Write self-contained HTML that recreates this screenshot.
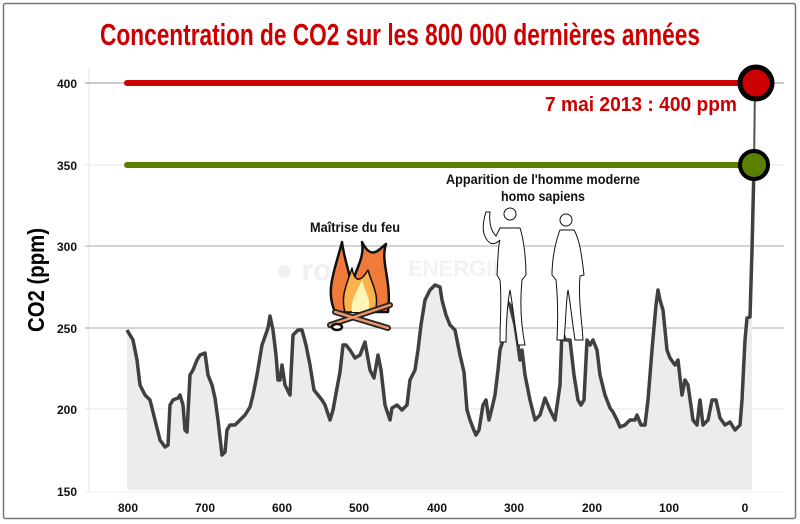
<!DOCTYPE html>
<html><head><meta charset="utf-8"><style>
html,body{margin:0;padding:0;background:#fff;width:800px;height:524px;overflow:hidden}
svg{display:block}
text{font-family:"Liberation Sans Narrow","Liberation Sans",sans-serif}
</style></head><body>
<svg width="800" height="524" viewBox="0 0 800 524" xmlns="http://www.w3.org/2000/svg">
<rect x="3.5" y="3.5" width="792" height="515" fill="#fff" stroke="#777" stroke-width="1.5" rx="2"/>
<text x="100" y="45" font-size="31" font-weight="bold" fill="#cc0000" textLength="600" lengthAdjust="spacingAndGlyphs">Concentration de CO2 sur les 800 000 dernières années</text>
<line x1="89" y1="67" x2="89" y2="493" stroke="#e6e6e6"/>
<line x1="85" y1="83" x2="784" y2="83" stroke="#999"/>
<line x1="85" y1="165" x2="784" y2="165" stroke="#e6e6e6"/>
<line x1="85" y1="246" x2="784" y2="246" stroke="#aaa"/>
<line x1="85" y1="328" x2="784" y2="328" stroke="#aaa"/>
<line x1="85" y1="409" x2="784" y2="409" stroke="#e6e6e6"/>
<line x1="85" y1="492" x2="784" y2="492" stroke="#eee"/>
<g font-size="12" font-weight="bold" fill="#111" style="font-family:'Liberation Sans',sans-serif">
<text x="77" y="88" text-anchor="end">400</text>
<text x="77" y="170" text-anchor="end">350</text>
<text x="77" y="251" text-anchor="end">300</text>
<text x="77" y="333" text-anchor="end">250</text>
<text x="77" y="414" text-anchor="end">200</text>
<text x="77" y="496" text-anchor="end">150</text>
<g text-anchor="middle">
<text x="128" y="512">800</text><text x="205" y="512">700</text><text x="282" y="512">600</text><text x="359" y="512">500</text><text x="437" y="512">400</text><text x="514" y="512">300</text><text x="592" y="512">200</text><text x="669" y="512">100</text><text x="745" y="512">0</text>
</g></g>
<text transform="translate(44,280) rotate(-90)" font-size="23" font-weight="bold" text-anchor="middle" fill="#000" textLength="104" lengthAdjust="spacingAndGlyphs">CO2 (ppm)</text>
<text x="275" y="280" font-size="30" font-weight="bold" fill="#f0f0f0">● rouch</text>
<text x="408" y="276" font-size="22" font-weight="bold" fill="#f2f2f2">ENERGIES</text>
<path id="d" d="M127,330 L130,335 133,340 137,360 140,385 145,395 150,400 155,420 160,440 165,447 168,445 170,405 173,400 178,398 180,395 183,405 185,430 187,432 190,375 193,370 197,360 200,355 205,353 208,375 212,385 215,398 218,420 222,455 225,452 227,430 230,425 235,425 240,420 245,415 250,407 253,395 257,375 262,345 268,328 270,316 273,330 276,355 278,380 280,380 282,365 285,385 290,395 293,335 298,330 302,330 306,345 310,365 314,390 318,395 322,400 325,405 330,420 333,410 337,388 340,372 343,345 346,345 350,350 355,358 360,355 365,342 370,370 374,378 378,355 381,370 385,405 390,420 392,408 397,405 402,410 407,405 410,380 415,370 418,350 421,325 425,300 430,290 435,285 440,287 442,300 446,315 450,325 455,330 460,355 464,372 467,410 470,420 473,428 476,435 479,430 483,405 486,400 489,420 492,408 495,395 498,370 500,350 503,340 506,300 510,305 515,325 518,345 520,360 522,350 525,375 530,400 535,420 540,415 545,398 550,410 555,420 560,385 562,330 565,340 570,340 574,375 578,400 581,405 584,400 587,340 590,345 593,340 597,350 600,375 605,395 610,408 613,412 617,420 620,427 625,425 630,420 635,420 637,415 641,425 645,425 648,400 652,350 656,305 658,290 660,300 663,310 667,350 670,358 675,365 678,360 682,395 685,380 688,385 693,420 697,425 700,400 703,425 708,420 712,400 716,400 720,418 725,425 730,422 735,430 740,425 742,400 745,340 747,318 750,317 752,250 754,165" fill="none"/>
<path d="M127,490 L127,330 L130,335 133,340 137,360 140,385 145,395 150,400 155,420 160,440 165,447 168,445 170,405 173,400 178,398 180,395 183,405 185,430 187,432 190,375 193,370 197,360 200,355 205,353 208,375 212,385 215,398 218,420 222,455 225,452 227,430 230,425 235,425 240,420 245,415 250,407 253,395 257,375 262,345 268,328 270,316 273,330 276,355 278,380 280,380 282,365 285,385 290,395 293,335 298,330 302,330 306,345 310,365 314,390 318,395 322,400 325,405 330,420 333,410 337,388 340,372 343,345 346,345 350,350 355,358 360,355 365,342 370,370 374,378 378,355 381,370 385,405 390,420 392,408 397,405 402,410 407,405 410,380 415,370 418,350 421,325 425,300 430,290 435,285 440,287 442,300 446,315 450,325 455,330 460,355 464,372 467,410 470,420 473,428 476,435 479,430 483,405 486,400 489,420 492,408 495,395 498,370 500,350 503,340 506,300 510,305 515,325 518,345 520,360 522,350 525,375 530,400 535,420 540,415 545,398 550,410 555,420 560,385 562,330 565,340 570,340 574,375 578,400 581,405 584,400 587,340 590,345 593,340 597,350 600,375 605,395 610,408 613,412 617,420 620,427 625,425 630,420 635,420 637,415 641,425 645,425 648,400 652,350 656,305 658,290 660,300 663,310 667,350 670,358 675,365 678,360 682,395 685,380 688,385 693,420 697,425 700,400 703,425 708,420 712,400 716,400 720,418 725,425 730,422 735,430 740,425 742,400 745,340 747,318 752,317 752,490 Z" fill="#ececec"/>
<use href="#d" stroke="#404040" stroke-width="3.5" stroke-linejoin="round"/>
<line x1="127" y1="83" x2="745" y2="83" stroke="#cc0000" stroke-width="6" stroke-linecap="round"/>
<line x1="127" y1="165" x2="745" y2="165" stroke="#5a8000" stroke-width="6" stroke-linecap="round"/>
<line x1="755" y1="83" x2="754" y2="165" stroke="#555" stroke-width="2"/>
<circle cx="756" cy="83" r="16" fill="#cc0000" stroke="#000" stroke-width="5"/>
<circle cx="754" cy="165" r="14" fill="#5a8000" stroke="#000" stroke-width="4"/>
<text x="545" y="111" font-size="20" font-weight="bold" fill="#cc0000" textLength="192" lengthAdjust="spacingAndGlyphs">7 mai 2013 : 400 ppm</text>
<text x="355" y="232" font-size="14" font-weight="bold" text-anchor="middle" fill="#111" textLength="90" lengthAdjust="spacingAndGlyphs">Maîtrise du feu</text>
<text x="543" y="184" font-size="14" font-weight="bold" text-anchor="middle" fill="#111" textLength="194" lengthAdjust="spacingAndGlyphs">Apparition de l'homme moderne</text>
<text x="543" y="201" font-size="14" font-weight="bold" text-anchor="middle" fill="#111" textLength="84" lengthAdjust="spacingAndGlyphs">homo sapiens</text>
<g stroke="#111" stroke-width="2.5" stroke-linejoin="round">
<path d="M335,312 C325,290 335,270 342,242 C345,265 352,275 350,290 C355,270 365,258 362,242 C372,262 380,248 386,244 C380,262 392,280 388,312 Z" fill="#f07a3a"/>
<path d="M345,312 C340,295 348,282 352,268 C355,285 362,280 368,270 C372,285 380,295 375,312 Z" fill="#fbb24a" stroke-width="1.5"/>
<path d="M352,312 C350,300 358,290 362,280 C366,295 372,300 368,312 Z" fill="#fff4b8" stroke="none"/>
<path d="M330,325 L390,305 M335,312 L388,328" stroke="#222" stroke-width="6" stroke-linecap="round"/>
<path d="M330,325 L390,305 M335,312 L388,328" stroke="#e8956a" stroke-width="2.5" stroke-linecap="round"/>
<ellipse cx="337" cy="327" rx="5" ry="3" fill="#fff"/>
</g>
<g fill="#fff" stroke="#111" stroke-width="1">
<circle cx="510" cy="214" r="6"/>
<path d="M500,228 L520,228 C524,240 526,260 526,275 L522,280 C520,300 520,320 525,345 L518,345 C514,320 512,300 510,290 C508,300 506,320 506,342 L500,342 C500,320 502,300 500,280 L497,275 C498,260 498,245 500,240 C494,246 488,245 484,234 C482,226 484,218 486,212 L490,212 C489,220 490,230 496,236 Z"/>
<circle cx="566" cy="220" r="6"/>
<path d="M560,230 L574,230 C580,240 582,258 584,275 L580,276 C578,300 582,320 583,340 L575,340 C572,320 570,300 568,290 C566,300 566,320 564,340 L557,340 C558,320 558,300 556,280 L552,275 C552,258 556,240 560,230 Z"/>
</g>
</svg>
</body></html>
